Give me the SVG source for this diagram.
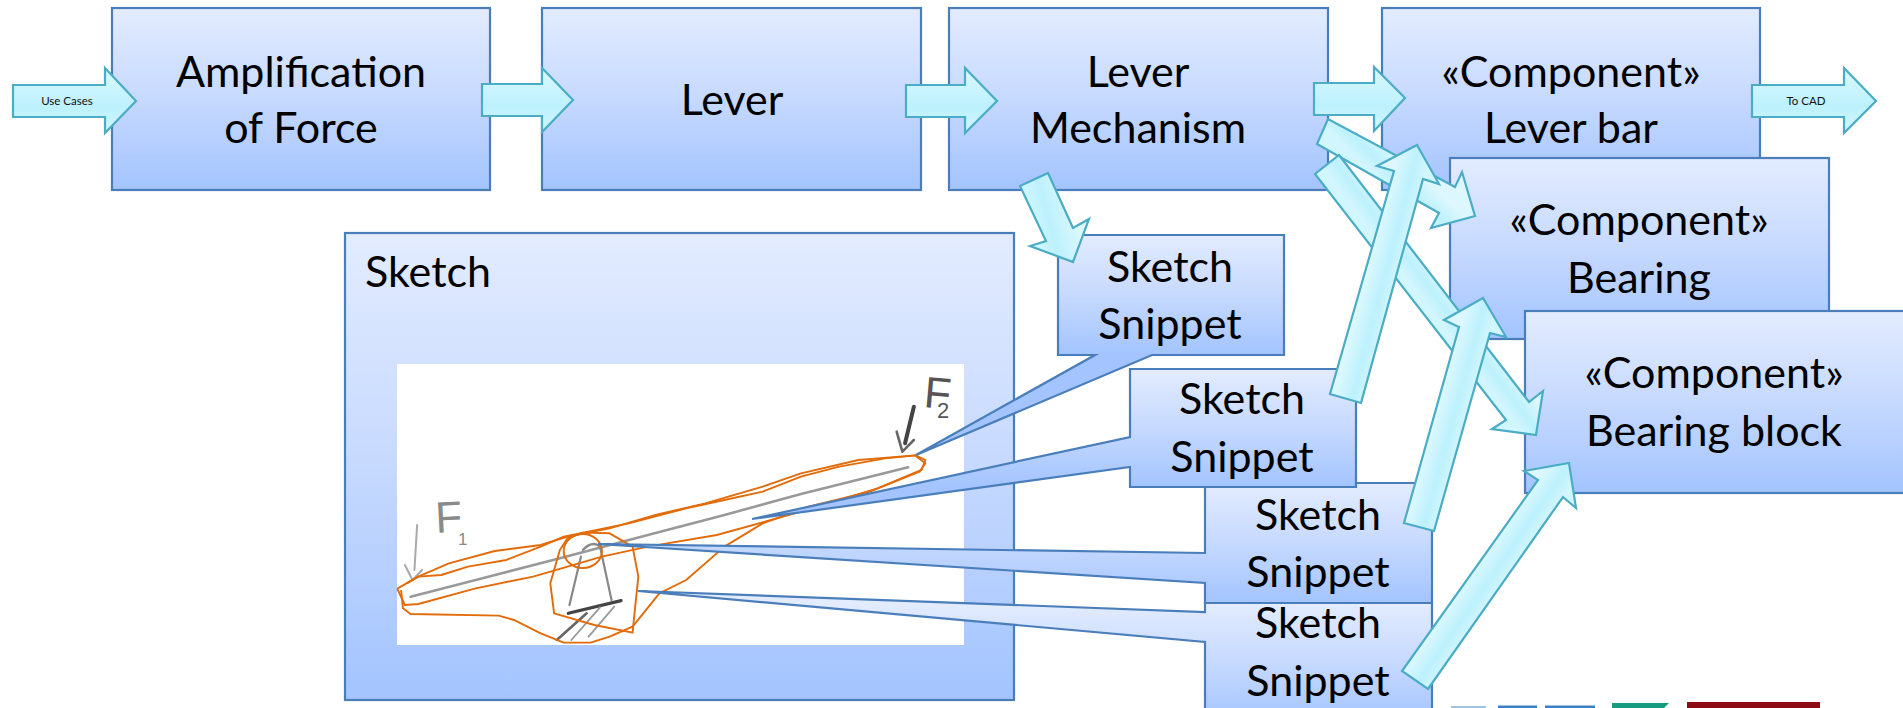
<svg xmlns="http://www.w3.org/2000/svg" xmlns:xlink="http://www.w3.org/1999/xlink" width="1903" height="708" viewBox="0 0 1903 708">
<style>
.box{stroke:#4a7ebb;stroke-width:2.2;fill:url(#boxG)}
.call{stroke:#4a7ebb;stroke-width:2.2;stroke-linejoin:miter}
.t{font-family:Lato,"Liberation Sans",sans-serif;font-size:43px;fill:#000;text-anchor:middle}
.s{font-family:Lato,"Liberation Sans",sans-serif;font-size:11.5px;fill:#111;text-anchor:middle}
.ar{stroke:#4bacc6;stroke-width:2.2;stroke-linejoin:miter}
.or{fill:none;stroke:#e26b0a;stroke-width:1.9;vector-effect:non-scaling-stroke;stroke-linejoin:round}
.pen{fill:none;vector-effect:non-scaling-stroke;stroke-linecap:round;stroke-linejoin:round}
.hand{font-family:"Liberation Sans",sans-serif;font-weight:400}
</style>
<defs>
<linearGradient id="boxG" x1="0" y1="0" x2="0" y2="1"><stop offset="0" stop-color="#e3ecff"/><stop offset=".5" stop-color="#c6d9fe"/><stop offset="1" stop-color="#a3c4ff"/></linearGradient>
<linearGradient id="arG" x1="0" y1="0" x2="0" y2="1"><stop offset="0" stop-color="#dcf8fe"/><stop offset=".6" stop-color="#bcf1fd"/><stop offset="1" stop-color="#d2f6fd"/></linearGradient>
<linearGradient id="c1" gradientUnits="userSpaceOnUse" x1="0" y1="235" x2="0" y2="355" xlink:href="#boxG"/>
<linearGradient id="c2" gradientUnits="userSpaceOnUse" x1="0" y1="369" x2="0" y2="487" xlink:href="#boxG"/>
<linearGradient id="c3" gradientUnits="userSpaceOnUse" x1="0" y1="483" x2="0" y2="603" xlink:href="#boxG"/>
<linearGradient id="c4" gradientUnits="userSpaceOnUse" x1="0" y1="603" x2="0" y2="723" xlink:href="#boxG"/>
<linearGradient id="d5" gradientUnits="userSpaceOnUse" x1="1075" y1="210" x2="1030" y2="222" xlink:href="#arG"/>
<linearGradient id="d6" gradientUnits="userSpaceOnUse" x1="1400" y1="155" x2="1378" y2="178" xlink:href="#arG"/>
<linearGradient id="d7" gradientUnits="userSpaceOnUse" x1="1440" y1="272" x2="1416" y2="290" xlink:href="#arG"/>
<linearGradient id="d8" gradientUnits="userSpaceOnUse" x1="1362" y1="290" x2="1392" y2="298" xlink:href="#arG"/>
<linearGradient id="d9" gradientUnits="userSpaceOnUse" x1="1433" y1="425" x2="1462" y2="433" xlink:href="#arG"/>
<linearGradient id="d10" gradientUnits="userSpaceOnUse" x1="1470" y1="575" x2="1496" y2="593" xlink:href="#arG"/>
</defs>
<rect width="1903" height="708" fill="#fff"/>

<g id="logos">
<rect x="1451" y="706" width="35" height="2" fill="#9fc3e4"/>
<rect x="1498" y="705.5" width="39" height="2.5" fill="#3d80c2"/>
<rect x="1545" y="705.5" width="50" height="2.5" fill="#3d80c2"/>
<path d="M1612,703 H1669 L1664,708 H1612 Z" fill="#169a80"/>
<rect x="1687" y="702" width="133" height="6" fill="#8c0b15"/>
</g>

<g id="sketch">
<rect class="box" x="345" y="233" width="669" height="467"/>
<text class="t" x="365" y="287" style="text-anchor:start">Sketch</text>
<rect x="397" y="364" width="567" height="281" fill="#fff"/>
<text class="hand" x="436" y="533" font-size="44" fill="#8a8a8a" transform="rotate(-3 436 533)">F</text>
<text class="hand" x="458" y="545" font-size="17" fill="#8a8a8a">1</text>
<text class="hand" x="923" y="407" font-size="44" fill="#555" transform="rotate(5 923 407)">F</text>
<text class="hand" x="937" y="418" font-size="22" fill="#555">2</text>
<g transform="translate(380,350) scale(0.3827,0.3333)">
<path class="pen" stroke="#999" stroke-width="2.6" d="M80,740 L250,690 L470,625 L700,555 L900,495 L1100,432 L1380,352"/>
<path class="pen" stroke="#888" stroke-width="2.2" d="M525,620 L495,765 M530,600 Q555,570 575,590 L605,750"/>
<path class="pen" stroke="#444" stroke-width="3.2" d="M492,790 L630,752"/>
<path class="pen" stroke="#666" stroke-width="2.6" d="M540,790 L462,870"/>
<path class="pen" stroke="#999" stroke-width="1.8" d="M575,772 L500,870 M612,770 L545,860"/>
<path class="pen" stroke="#aaa" stroke-width="2" d="M97,525 L90,660 M65,645 L85,690 L110,660"/>
<path class="pen" stroke="#444" stroke-width="4" d="M1395,170 L1372,280"/>
<path class="pen" stroke="#666" stroke-width="2.6" d="M1350,245 L1365,305 L1395,270"/>
<path class="or" d="M45,716 L100,680 L180,640 L300,603 L420,585 L490,560 L600,535 L720,495 L850,460 L1000,410 L1100,370 L1250,330 L1400,316 L1425,330 L1415,360 L1300,415 L1100,485 L880,555 L700,590 L580,620 L400,680 L250,715 L100,762 L65,765 L45,716"/>
<path class="or" d="M70,700 L100,680 L160,675 L230,650 L330,630 L420,590 L480,560 L650,520 L800,475 L900,450 L1000,425 L1100,380 L1200,350 L1320,325 L1400,316"/>
<path class="or" d="M1400,318 L1425,340 L1410,365 L1280,425 L1120,470 L1000,520 L900,590 L800,690 L730,730 L660,830 L600,860 L550,878 L480,878 L420,850 L350,810 L310,797 L80,792 L60,775 L55,720"/>
<path class="or" d="M530,548 L600,550 L660,590 L675,680 L665,790 L660,848 L560,825 L455,790 L445,700 L470,600 L490,565 L530,548"/>
<ellipse class="or" cx="530" cy="603" rx="50" ry="51"/>
</g>
</g>

<g id="snippet4">
<path class="call" fill="url(#c4)" d="M1205,603 H1432 V730 H1205 V642 L638,591 L1205,612 Z"/>
<text class="t" x="1318" y="638">Sketch</text><text class="t" x="1318" y="696">Snippet</text>
</g>
<g id="snippet3">
<path class="call" fill="url(#c3)" d="M1205,483 H1432 V603 H1205 V583 L598,544 L1205,553 Z"/>
<text class="t" x="1318" y="530">Sketch</text><text class="t" x="1318" y="587">Snippet</text>
</g>
<g id="snippet1">
<path class="call" fill="url(#c1)" d="M1058,235 H1284 V355 H1152 L916,455 L1095,355 H1058 Z"/>
<text class="t" x="1170" y="282">Sketch</text><text class="t" x="1170" y="339">Snippet</text>
</g>
<g id="snippet2">
<path class="call" fill="url(#c2)" d="M1130,369 H1356 V487 H1130 V467 L752,519 L1130,437 Z"/>
<text class="t" x="1242" y="414">Sketch</text><text class="t" x="1242" y="472">Snippet</text>
</g>

<g id="amplification"><rect class="box" x="112" y="8" width="378" height="182"/>
<text class="t" x="301" y="87">Amplification</text><text class="t" x="301" y="143">of Force</text></g>
<g id="lever"><rect class="box" x="542" y="8" width="379" height="182"/>
<text class="t" x="732" y="115">Lever</text></g>
<g id="mechanism"><rect class="box" x="949" y="8" width="379" height="182"/>
<text class="t" x="1138" y="87">Lever</text><text class="t" x="1138" y="143">Mechanism</text></g>
<g id="leverbar"><rect class="box" x="1382" y="8" width="378" height="182"/>
<text class="t" x="1571" y="87">«Component»</text><text class="t" x="1571" y="143">Lever bar</text></g>
<g id="bearing"><rect class="box" x="1450" y="158" width="379" height="181"/>
<text class="t" x="1639" y="235">«Component»</text><text class="t" x="1639" y="293">Bearing</text></g>
<g id="bearingblock"><rect class="box" x="1525" y="311" width="380" height="182"/>
<text class="t" x="1714" y="388">«Component»</text><text class="t" x="1714" y="446">Bearing block</text></g>

<g id="connectors">
<g id="use-cases"><polygon class="ar" fill="url(#arG)" points="13,85 105,85 105,68 136,101 105,133 105,117 13,117"/>
<text class="s" x="67" y="105">Use Cases</text></g>
<polygon class="ar" fill="url(#arG)" points="482,84 542,84 542,68 573,100 542,132 542,116 482,116"/>
<polygon class="ar" fill="url(#arG)" points="906,85 965,85 965,68 997,101 965,133 965,117 906,117"/>
<polygon class="ar" fill="url(#arG)" points="1314,83 1374,83 1374,67 1405,98 1374,131 1374,115 1314,115"/>
<g id="to-cad"><polygon class="ar" fill="url(#arG)" points="1752,85 1844,85 1844,68 1876,101 1844,133 1844,117 1752,117"/>
<text class="s" x="1806" y="105">To CAD</text></g>
<polygon class="ar" fill="url(#d5)" points="1020,186 1048,173 1073,228 1089,219 1073,262 1030,246 1046,241"/>
<polygon class="ar" fill="url(#d6)" points="1328,119 1317,144 1439,213 1431,228 1475,216 1462,172 1455,187"/>
<polygon class="ar" fill="url(#d7)" points="1339,155 1529,402 1543,391 1536,435 1492,429 1506,420 1315,174"/>
<polygon class="ar" fill="url(#d8)" points="1361,403 1423,179 1439,184 1417,145 1377,166 1394,171 1330,394"/>
<polygon class="ar" fill="url(#d9)" points="1434,531 1490,333 1506,337 1483,298 1444,320 1459,327 1404,523"/>
<polygon class="ar" fill="url(#d10)" points="1428,689 1563,497 1576,508 1569,463 1524,471 1538,480 1402,671"/>
</g>
</svg>
